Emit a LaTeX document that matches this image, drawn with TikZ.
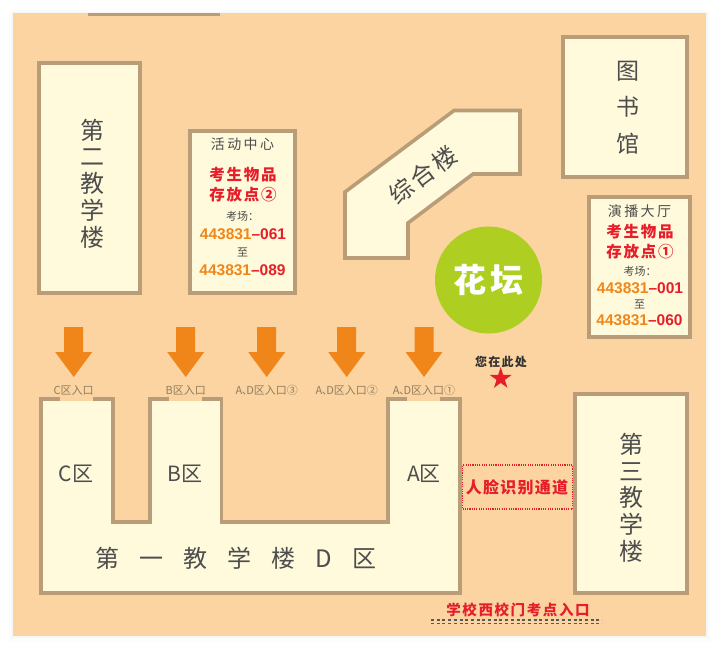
\documentclass[tikz,border=0pt]{standalone}
\usepackage{fontspec}
\setmainfont{Noto Sans CJK SC}
\newfontfamily\numfont{Liberation Sans}
\usetikzlibrary{calc}
\usetikzlibrary{shapes.geometric}
\definecolor{bg1}{RGB}{251, 212, 161}
\definecolor{cream1}{RGB}{255, 250, 220}
\definecolor{wall1}{RGB}{184, 157, 120}
\definecolor{ink1}{RGB}{77, 77, 77}
\definecolor{red1}{RGB}{230, 30, 42}
\definecolor{orange1}{RGB}{240, 134, 26}
\definecolor{green1}{RGB}{174, 207, 33}
\definecolor{tag1}{RGB}{145, 125, 95}
\newcommand{\fsz}[1]{\fontsize{#1}{#1}\selectfont}
\newcommand{\fszb}[2]{\fontsize{#1}{#2}\selectfont}
\newcommand{\wgap}{\hskip20pt}
\newcommand{\dun}{\kern-0.5pt、\kern-6.5pt}
\tikzset{
  wall/.style={draw=wall1, fill=cream1, line width=3.6pt},
  hall/.style={wall, rectangle, inner sep=0pt},
  hallname/.style={text=ink1, inner sep=0pt, align=center},
  tall/.style={hallname, font=\fszb{24}{26.7}, text width=30pt},
  zone/.style={hallname, font=\fsz{21}},
  store/.style={text=red1, inner sep=0pt, font=\fsz{15.5}\bfseries\addfontfeature{LetterSpace=11}},
  small/.style={hallname, font=\fsz{11}},
  roomcode/.style={inner sep=0pt, font=\fsz{15.5}\numfont\bfseries},
  tag/.style={text=tag1, inner sep=0pt, font=\fsz{11}},
  gate/.style={fill=bg1, draw=none, inner sep=0pt, minimum width=33pt, minimum height=4.5pt},
  downarrow/.pic={
    \fill[orange1] (-9.5,0) -- (9.5,0) -- (9.5,25) -- (18.5,25) -- (0,50) -- (-18.5,25) -- (-9.5,25) -- cycle;
  }
}
\begin{document}
\begin{tikzpicture}[x=1pt, y=-1pt]
  \useasboundingbox (0,0) rectangle (719,649);
  \fill[black!1] (9,10) rectangle (710,642);
  \fill[black!3] (11,12) rectangle (708,638);
  \fill[bg1] (13,13) rectangle (706,636);
  \fill[wall1] (88,13) rectangle (220,16);

  % halls
  \node[hall, minimum width=101pt, minimum height=230pt] (erjiao) at (89.5,178) {};
  \node[hall, minimum width=105pt, minimum height=162pt] (huodong) at (242.5,212) {};
  \node[hall, minimum width=124pt, minimum height=140pt] (tushu) at (625,107) {};
  \node[hall, minimum width=101pt, minimum height=140pt] (yanbo) at (639.5,267) {};
  \node[hall, minimum width=112pt, minimum height=199pt] (sanjiao) at (631,493.5) {};
  \draw[wall] (345,192) -- (454,110.5) -- (520,110.5) -- (520,174) -- (473,174) -- (408,223) -- (408,258) -- (345,258) -- cycle;
  \draw[wall] (41,399) -- (113,399) -- (113,522) -- (150,522) -- (150,399) -- (221.5,399) -- (221.5,522) -- (388,522) -- (388,399) -- (460,399) -- (460,593) -- (41,593) -- cycle;
  \node[gate] (gatec) at (76.5,399) {};
  \node[gate] (gateb) at (185.5,399) {};
  \node[gate] (gatea) at (423.5,399) {};

  \node[circle, fill=green1, minimum size=107pt, inner sep=0pt] (huatan) at (488.5,280) {};
  \node[text=white, inner sep=0pt, font=\fsz{33}\bfseries] (huatanname) at (488.5,280) {花\hskip4pt 坛};

  % names
  \node[tall] (erjiaoname) at (92,183.5) {第\\二\\教\\学\\楼};
  \node[tall] (sanjiaoname) at (631.5,497.5) {第\\三\\教\\学\\楼};
  \node[tall, font=\fszb{23}{36.5}] (tushuname) at (627.5,107.5) {图\\书\\馆};
  \node[hallname, font=\fsz{24}, rotate=37] (zonghename) at (423,175) {综\hskip3pt 合\hskip3pt 楼};
  \node[zone] (zonec) at (76,474) {C区};
  \node[zone] (zoneb) at (185,474) {B区};
  \node[zone] (zonea) at (424,474) {A区};
  \node[hallname, font=\fsz{24}] (yijiao) at (236,558) {第\wgap 一\wgap 教\wgap 学\wgap 楼\wgap D\wgap 区};

  % store points
  \node[hallname, font=\fsz{14}\addfontfeature{LetterSpace=17}] (huodongname) at (242.5,144.5) {活动中心};
  \node[store] (storeb1) at (243,175) {考生物品};
  \node[store] (storeb2) at (243,195) {存放点②};
  \node[small] (roomb) at (242.5,216) {考场：};
  \node[roomcode] (codeb1) at (243,234.5) {\textcolor{orange1}{443831}\textcolor{red1}{–061}};
  \node[small] (tob) at (242.5,252.5) {至};
  \node[roomcode] (codeb2) at (242.5,270.5) {\textcolor{orange1}{443831}\textcolor{red1}{–089}};

  \node[hallname, font=\fsz{14}\addfontfeature{LetterSpace=17}] (yanboname) at (639.5,211) {演播大厅};
  \node[store] (storea1) at (640,231.5) {考生物品};
  \node[store] (storea2) at (640,252) {存放点①};
  \node[small] (rooma) at (640,271) {考场：};
  \node[roomcode] (codea1) at (640,288) {\textcolor{orange1}{443831}\textcolor{red1}{–001}};
  \node[small] (toa) at (639.5,304) {至};
  \node[roomcode] (codea2) at (639.5,320) {\textcolor{orange1}{443831}\textcolor{red1}{–060}};

  % entrances
  \foreach \n/\ax/\lab in {c/73.7/C区入口, b/185.7/B区入口, ad3/266.7/A\dun D区入口③, ad2/346.7/A\dun D区入口②, ad1/424/A\dun D区入口①} {
    \pic at (\ax,327) {downarrow};
    \node[tag] (tag\n) at (\ax,390) {\lab};
  }

  % you are here
  \node[inner sep=0pt, text=black!80, font=\fsz{12}\bfseries\addfontfeature{LetterSpace=10}] (here) at (501,361.5) {您在此处};
  \node[star, star points=5, star point ratio=2.618, fill=red1, minimum size=23pt, inner sep=0pt] (youstar) at (500.7,378.5) {};

  \node[draw=red1, line width=1.2pt, dash pattern=on 1.1pt off 1.2pt, minimum width=110pt, minimum height=44pt, inner sep=0pt] (face) at (517.5,487) {};
  \node[text=red1, inner sep=0pt, font=\fsz{16}\bfseries\addfontfeature{LetterSpace=8}] (facename) at (517,487) {人脸识别通道};
  \node[text=red1, inner sep=0pt, font=\fsz{14.5}\bfseries\addfontfeature{LetterSpace=11}] (westgate) at (518,609.5) {学校西校门考点入口};
  \coordinate (rowl) at (431,620);
  \coordinate (rowr) at (602,620);
  \draw[black!65, line width=1.4pt, dash pattern=on 3pt off 2.7pt] (rowl) -- (rowr);
  \draw[black!65, line width=1.4pt, dash pattern=on 3pt off 2.7pt] ($(rowl)+(0,3.2)$) -- ($(rowr)+(0,3.2)$);
\end{tikzpicture}
\end{document}
